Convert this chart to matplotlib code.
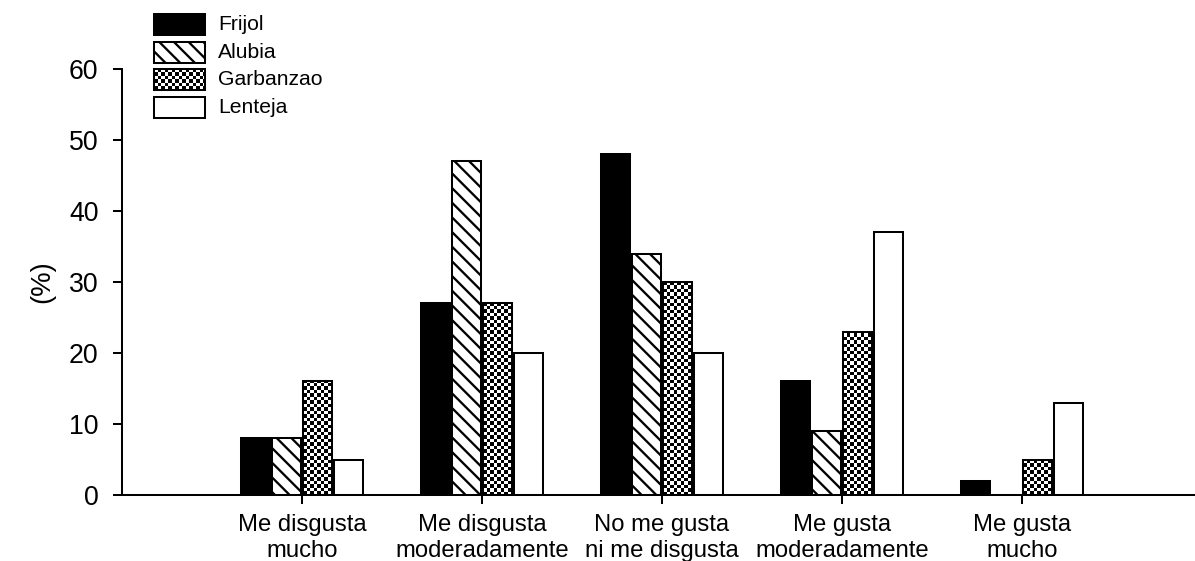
import numpy as np
import matplotlib
matplotlib.use('Agg')
import matplotlib.pyplot as plt
from matplotlib.patches import Rectangle

# Data
categories = ['Me disgusta\nmucho', 'Me disgusta\nmoderadamente', 'No me gusta\nni me disgusta',
              'Me gusta\nmoderadamente', 'Me gusta\nmucho']
series_names = ['Frijol', 'Alubia', 'Garbanzao', 'Lenteja']
frijol = [8, 27, 48, 16, 2]
alubia = [8, 47, 34, 9, 0]
garbanzo = [16, 27, 30, 23, 5]
lenteja = [5, 20, 20, 37, 13]
y_ticks = [0, 10, 20, 30, 40, 50, 60]

DPI = 132
plt.rcParams['font.family'] = ['Liberation Sans', 'DejaVu Sans']
plt.rcParams['hatch.linewidth'] = 1.25
plt.rcParams['hatch.color'] = 'black'

W, H = 1195, 561
fig = plt.figure(figsize=(W / DPI, H / DPI), dpi=DPI)
ax = fig.add_axes([121.5 / W, (H - 495) / H, (1194 - 121.5) / W, (495 - 69) / H])
ax.set_xlim(-1.003, 4.956)
ax.set_ylim(0, 60)

CELL = 3.5  # checker size in pixels
HATCH = '\\\\\\'


def add_checker(a, patch, z):
    # draw a black/white checker pattern clipped to a patch
    bb = patch.get_window_extent()
    nx = int(np.ceil(bb.width / CELL)) + 1
    ny = int(np.ceil(bb.height / CELL)) + 1
    ii, jj = np.indices((ny, nx))
    img = (ii + jj) % 2
    inv = a.transData.inverted()
    x0, y0 = inv.transform((bb.x0, bb.y0))
    x1, y1 = inv.transform((bb.x0 + nx * CELL, bb.y0 + ny * CELL))
    xl, yl = a.get_xlim(), a.get_ylim()
    im = a.imshow(img, cmap='gray', vmin=0, vmax=1, extent=(x0, x1, y0, y1),
                  origin='lower' if y1 > y0 else 'upper', interpolation='nearest',
                  aspect='auto', zorder=z)
    im.set_clip_path(patch)
    a.set_xlim(xl)
    a.set_ylim(yl)


x = np.arange(len(categories))
pitch = 0.1722
width = 0.164
lw = 1.1

ax.bar(x - 1.5 * pitch, frijol, width, color='black', edgecolor='black', linewidth=lw, zorder=2)
ax.bar(x - 0.5 * pitch, alubia, width, color='white', edgecolor='black', linewidth=lw,
       hatch=HATCH, zorder=2)
g_bars = ax.bar(x + 0.5 * pitch, garbanzo, width, color='white', edgecolor='black', linewidth=lw, zorder=2)
ax.bar(x + 1.5 * pitch, lenteja, width, color='white', edgecolor='black', linewidth=lw, zorder=2)
for b in g_bars:
    if b.get_height() > 0:
        add_checker(ax, b, 2.5)
ax.bar(x + 0.5 * pitch, garbanzo, width, fill=False, edgecolor='black', linewidth=lw, zorder=3)

ax.spines['top'].set_visible(False)
ax.spines['right'].set_visible(False)
ax.spines['left'].set_linewidth(lw)
ax.spines['bottom'].set_linewidth(lw)
ax.spines['bottom'].set_zorder(4)

ax.set_yticks(y_ticks)
ax.set_xticks(x)
ax.set_xticklabels(categories, fontsize=13, linespacing=1.22)
ax.tick_params(axis='y', length=5, width=lw, pad=7.5, labelsize=14.5)
ax.tick_params(axis='x', length=5, width=lw, pad=5.5)
ax.set_ylabel('(%)', fontsize=15)
ax.yaxis.set_label_coords(-0.062, 0.5)

# legend drawn in a pixel-space overlay
lg = fig.add_axes([0, 0, 1, 1], zorder=5)
lg.set_xlim(0, W)
lg.set_ylim(H, 0)
lg.axis('off')
lg.patch.set_alpha(0)
leg_styles = [dict(facecolor='black'), dict(facecolor='white', hatch=HATCH),
              dict(facecolor='white'), dict(facecolor='white')]
for k, name in enumerate(series_names):
    top = 14 + k * 27.7
    r = Rectangle((154.5, top), 50.5, 21, edgecolor='black', linewidth=lw, zorder=2, **leg_styles[k])
    lg.add_patch(r)
    if k == 2:
        add_checker(lg, r, 2.5)
        lg.add_patch(Rectangle((154.5, top), 50.5, 21, fill=False, edgecolor='black',
                               linewidth=lw, zorder=3))
    lg.text(218, top + 10.5, name, fontsize=11.5, va='center', ha='left')

fig.savefig('out.png', dpi=DPI)
